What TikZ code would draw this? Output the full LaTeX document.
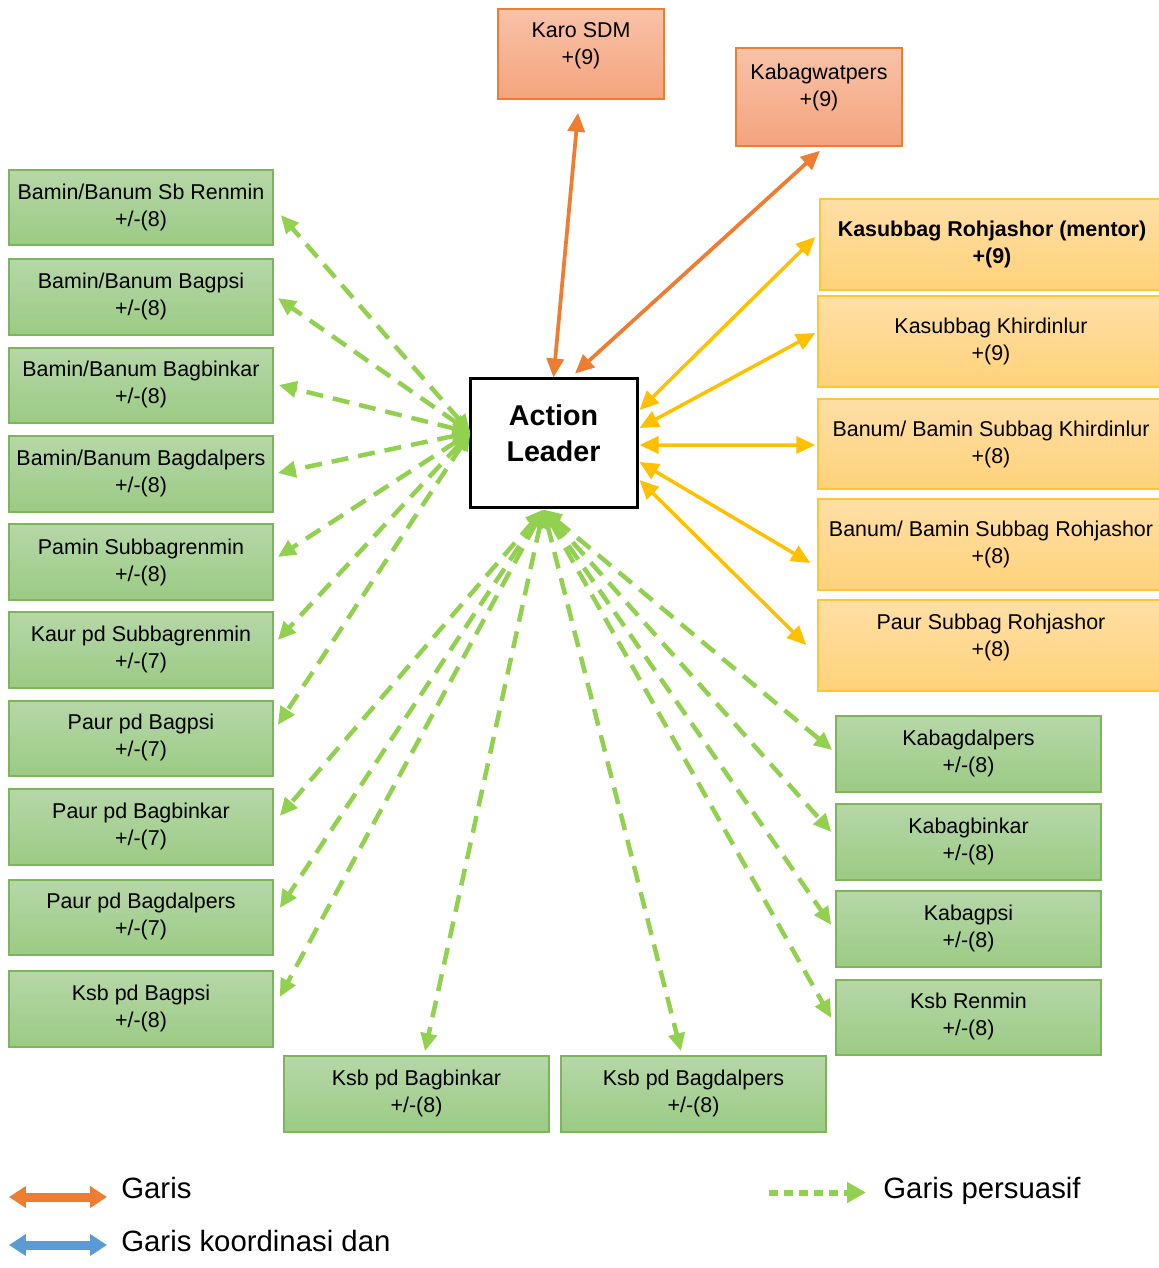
\documentclass[tikz,border=0pt]{standalone}
\usepackage{fontspec}
\setmainfont{Liberation Sans}
\usetikzlibrary{arrows.meta,calc}
\definecolor{gtop}{HTML}{B6D7A8}
\definecolor{gbot}{HTML}{9BCB84}
\definecolor{gborder}{HTML}{7DB55A}
\definecolor{otop}{HTML}{F8C2A8}
\definecolor{obot}{HTML}{F4A47D}
\definecolor{oline}{HTML}{ED7D31}
\definecolor{ytop}{HTML}{FFDFA6}
\definecolor{ybot}{HTML}{FFD27A}
\definecolor{yborder}{HTML}{FFC633}
\definecolor{yline}{HTML}{FFC000}
\definecolor{gline}{HTML}{92D050}
\definecolor{bline}{HTML}{5B9BD5}
\tikzset{
  gbox/.style={draw=gborder, line width=0.03cm, top color=gtop, bottom color=gbot, inner sep=0},
  obox/.style={draw=oline, line width=0.03cm, top color=otop, bottom color=obot, inner sep=0},
  ybox/.style={draw=yborder, line width=0.03cm, top color=ytop, bottom color=ybot, inner sep=0},
  lbox/.style={draw=black, line width=0.06cm, fill=white, inner sep=0},
  btext/.style={align=center, inner sep=0, font=\fontsize{12.2}{15.4}\selectfont},
  ltext/.style={align=center, inner sep=0, font=\bfseries\fontsize{16.3}{20.5}\selectfont},
  legtext/.style={anchor=base west, inner sep=0, font=\fontsize{16.7}{20}\selectfont},
  garrow/.style={gline, line width=0.09cm, dash pattern=on 0.34cm off 0.2cm,
    {Triangle[length=0.36cm,width=0.32cm]}-{Triangle[length=0.36cm,width=0.32cm]}},
  yarrow/.style={yline, line width=0.07cm,
    {Triangle[length=0.38cm,width=0.34cm]}-{Triangle[length=0.38cm,width=0.34cm]}},
  oarrow/.style={oline, line width=0.075cm,
    {Triangle[length=0.38cm,width=0.34cm]}-{Triangle[length=0.38cm,width=0.34cm]}},
}
\newcommand\rbox[8]{%
  \pgfmathsetmacro\bcx{(#3+#5)/2}\pgfmathsetmacro\bcy{(#4+#6)/2}%
  \node[#1, minimum width={(#5-#3)*0.02cm}, minimum height={(#6-#4)*0.02cm}] (#2) at (\bcx,\bcy) {};%
  \node[btext] at ($(#2.center)+(0,#8)$) {#7};%
}
\begin{document}
\begin{tikzpicture}[x=0.02cm, y=-0.02cm]
\useasboundingbox (0,0) rectangle (1159,1268);
\clip (0,0) rectangle (1159,1268);

% top orange boxes
\rbox{obox}{karo}{498}{9}{664}{99}{Karo SDM\\+(9)}{-8.5}
\rbox{obox}{kabw}{736}{48}{902}{146}{Kabagwatpers\\+(9)}{-9.5}

% leader
\node[lbox, minimum width={167*0.02cm}, minimum height={129*0.02cm}] (lead) at (553.5,442.5) {};
\node[ltext] at ($(lead.center)+(0,-9)$) {Action\\Leader};

% left green boxes
\rbox{gbox}{b1}{9}{170}{273}{245}{Bamin/Banum Sb Renmin\\+/-(8)}{0}
\rbox{gbox}{b2}{9}{259}{273}{335}{Bamin/Banum Bagpsi\\+/-(8)}{-1}
\rbox{gbox}{b3}{9}{348}{273}{423}{Bamin/Banum Bagbinkar\\+/-(8)}{-1}
\rbox{gbox}{b4}{9}{436}{273}{512}{Bamin/Banum Bagdalpers\\+/-(8)}{-1}
\rbox{gbox}{b5}{9}{524}{273}{600}{Pamin Subbagrenmin\\+/-(8)}{0}
\rbox{gbox}{b6}{9}{612}{273}{688}{Kaur pd Subbagrenmin\\+/-(7)}{-1}
\rbox{gbox}{b7}{9}{701}{273}{776}{Paur pd Bagpsi\\+/-(7)}{-1}
\rbox{gbox}{b8}{9}{789}{273}{865}{Paur pd Bagbinkar\\+/-(7)}{-1}
\rbox{gbox}{b9}{9}{880}{273}{955}{Paur pd Bagdalpers\\+/-(7)}{-1}
\rbox{gbox}{b10}{9}{971}{273}{1047}{Ksb pd Bagpsi\\+/-(8)}{-1}

% right green boxes
\rbox{gbox}{r1}{836}{716}{1101}{792}{Kabagdalpers\\+/-(8)}{-1}
\rbox{gbox}{r2}{836}{804}{1101}{880}{Kabagbinkar\\+/-(8)}{-1}
\rbox{gbox}{r3}{836}{891}{1101}{967}{Kabagpsi\\+/-(8)}{-1}
\rbox{gbox}{r4}{836}{980}{1101}{1055}{Ksb Renmin\\+/-(8)}{-1}

% bottom green boxes
\rbox{gbox}{k1}{284}{1056}{549}{1132}{Ksb pd Bagbinkar\\+/-(8)}{-1}
\rbox{gbox}{k2}{561}{1056}{826}{1132}{Ksb pd Bagdalpers\\+/-(8)}{-1}

% yellow boxes
\rbox{ybox}{y1}{820}{199}{1164}{290}{\textbf{Kasubbag Rohjashor (mentor)}\\\textbf{+(9)}}{0}
\rbox{ybox}{y2}{818}{296}{1164}{387}{Kasubbag Khirdinlur\\+(9)}{0}
\rbox{ybox}{y3}{818}{399}{1164}{489}{Banum/ Bamin Subbag Khirdinlur\\+(8)}{0}
\rbox{ybox}{y4}{818}{499}{1164}{590}{Banum/ Bamin Subbag Rohjashor\\+(8)}{0}
\rbox{ybox}{y5}{818}{600}{1164}{691}{Paur Subbag Rohjashor\\+(8)}{-8}

% orange connectors
\draw[oarrow] ($(lead.north)+(0,1)$) -- ($(karo.south)+(-3,13)$);
\draw[oarrow] ($(lead.north)+(21.5,-3)$) -- ($(kabw.south)+(1,4)$);

% yellow connectors
\draw[yarrow] ($(lead.east)+(1,-32.5)$) -- ($(y1.west)+(-4,-7.5)$);
\draw[yarrow] ($(lead.east)+(1,-14.5)$) -- ($(y2.west)+(-2,-8.5)$);
\draw[yarrow] ($(lead.east)+(1,2.5)$) -- ($(y3.west)+(-2,1)$);
\draw[yarrow] ($(lead.east)+(1,19.5)$) -- ($(y4.west)+(-7,18.5)$);
\draw[yarrow] ($(lead.east)+(1,37.5)$) -- ($(y5.west)+(-11,-0.5)$);

% green connectors from left point
\draw[garrow] ($(lead.west)+(2,-10)$) -- ($(b1.east)+(7,7.5)$);
\draw[garrow] ($(lead.west)+(2,-10)$) -- ($(b2.east)+(4,1)$);
\draw[garrow] ($(lead.west)+(2,-10)$) -- ($(b3.east)+(5,-0.5)$);
\draw[garrow] ($(lead.west)+(2,-10)$) -- ($(b4.east)+(4,-1)$);
\draw[garrow] ($(lead.west)+(2,-10)$) -- ($(b5.east)+(4,-5)$);
\draw[garrow] ($(lead.west)+(2,-10)$) -- ($(b6.east)+(4,-10)$);
\draw[garrow] ($(lead.west)+(2,-10)$) -- ($(b7.east)+(4,-13.5)$);

% green connectors from bottom point
\draw[garrow] ($(lead.south)+(-10,1)$) -- ($(b8.east)+(6,-11)$);
\draw[garrow] ($(lead.south)+(-10,1)$) -- ($(b9.east)+(6,-9.5)$);
\draw[garrow] ($(lead.south)+(-10,1)$) -- ($(b10.east)+(6,-12)$);
\draw[garrow] ($(lead.south)+(-10,1)$) -- ($(k1.north)+(8.5,-4)$);
\draw[garrow] ($(lead.south)+(-10,1)$) -- ($(k2.north)+(-12.5,-4)$);
\draw[garrow] ($(lead.south)+(-10,1)$) -- ($(r1.west)+(-3,-4)$);
\draw[garrow] ($(lead.south)+(-10,1)$) -- ($(r2.west)+(-4,-10)$);
\draw[garrow] ($(lead.south)+(-10,1)$) -- ($(r3.west)+(-4,-4)$);
\draw[garrow] ($(lead.south)+(-10,1)$) -- ($(r4.west)+(-4,0.5)$);

% legend
\coordinate (lo1) at (9,1197);
\coordinate (lo2) at (107,1197);
\coordinate (lb1) at (9,1245);
\coordinate (lb2) at (107,1245);
\coordinate (lg1) at (769,1192.5);
\coordinate (lg2) at (866,1192.5);
\draw[oline, line width=0.18cm, {Triangle[length=0.34cm,width=0.42cm]}-{Triangle[length=0.34cm,width=0.42cm]}] (lo1) -- (lo2);
\draw[bline, line width=0.18cm, {Triangle[length=0.34cm,width=0.42cm]}-{Triangle[length=0.34cm,width=0.42cm]}] (lb1) -- (lb2);
\draw[gline, line width=0.12cm, dash pattern=on 0.18cm off 0.12cm, -{Triangle[length=0.38cm,width=0.4cm]}] (lg1) -- (lg2);
\node[legtext] (t1) at (121,1198) {Garis};
\node[legtext] (t2) at (121,1251) {Garis koordinasi dan};
\node[legtext] (t3) at (883,1198) {Garis persuasif};
\end{tikzpicture}
\end{document}
